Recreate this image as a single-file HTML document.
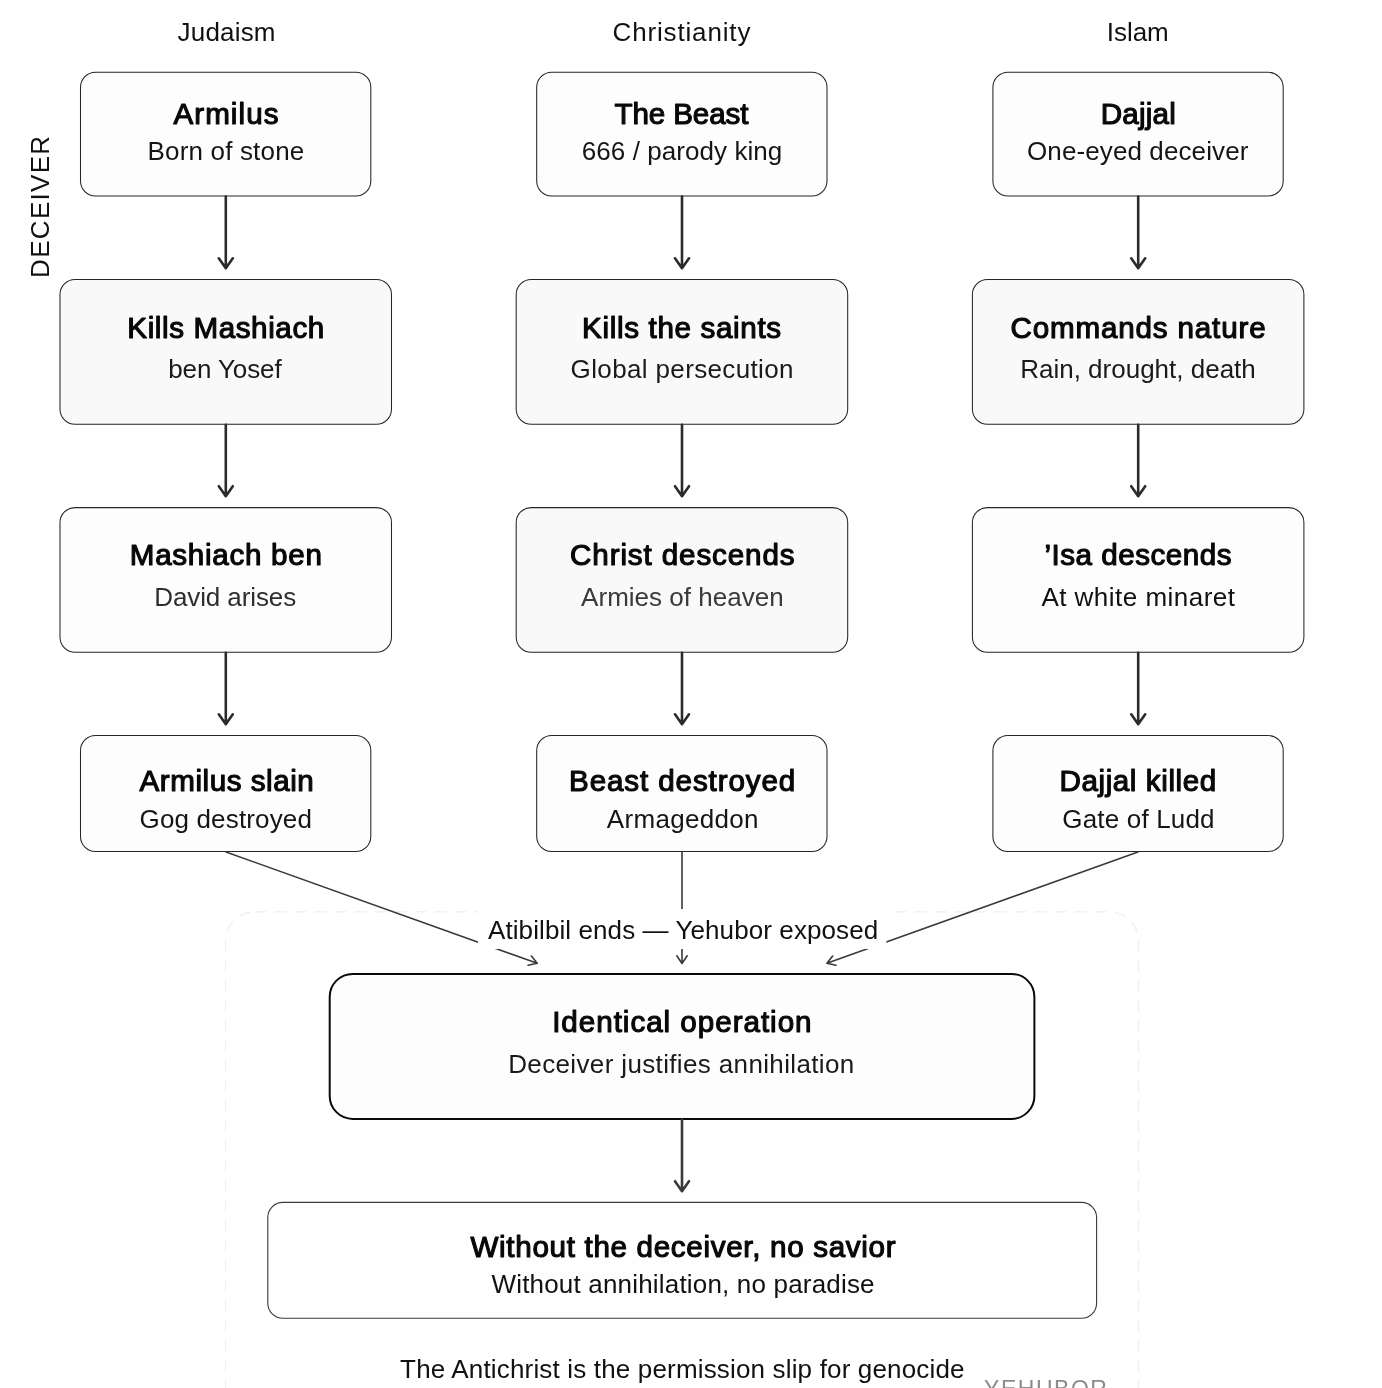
<!DOCTYPE html>
<html><head><meta charset="utf-8"><style>
html,body{margin:0;padding:0;background:#fff;}
body{width:1382px;height:1388px;overflow:hidden;}
svg{display:block;will-change:transform;font-family:"Liberation Sans",sans-serif;}
</style></head><body>
<svg width="1382" height="1388" viewBox="0 0 1382 1388">
<rect x="225.5" y="911.8" width="913" height="600" rx="29" fill="none" stroke="#eeeeee" stroke-width="1.2" stroke-dasharray="12 8"/>
<rect x="80.5" y="72.3" width="290.30" height="123.70" rx="15" fill="#fdfdfd" stroke="#262626" stroke-width="1.05"/>
<rect x="536.7" y="72.3" width="290.30" height="123.70" rx="15" fill="#fdfdfd" stroke="#262626" stroke-width="1.05"/>
<rect x="992.9" y="72.3" width="290.30" height="123.70" rx="15" fill="#fdfdfd" stroke="#262626" stroke-width="1.05"/>
<rect x="60.0" y="279.5" width="331.50" height="144.70" rx="15" fill="#f9f9f9" stroke="#262626" stroke-width="1.05"/>
<rect x="516.2" y="279.5" width="331.50" height="144.70" rx="15" fill="#f9f9f9" stroke="#262626" stroke-width="1.05"/>
<rect x="972.4" y="279.5" width="331.50" height="144.70" rx="15" fill="#f9f9f9" stroke="#262626" stroke-width="1.05"/>
<rect x="60.0" y="507.6" width="331.50" height="144.60" rx="15" fill="#fdfdfd" stroke="#262626" stroke-width="1.05"/>
<rect x="516.2" y="507.6" width="331.50" height="144.60" rx="15" fill="#f9f9f9" stroke="#262626" stroke-width="1.05"/>
<rect x="972.4" y="507.6" width="331.50" height="144.60" rx="15" fill="#fdfdfd" stroke="#262626" stroke-width="1.05"/>
<rect x="80.5" y="735.5" width="290.30" height="116.00" rx="15" fill="#fdfdfd" stroke="#262626" stroke-width="1.05"/>
<rect x="536.7" y="735.5" width="290.30" height="116.00" rx="15" fill="#fdfdfd" stroke="#262626" stroke-width="1.05"/>
<rect x="992.9" y="735.5" width="290.30" height="116.00" rx="15" fill="#fdfdfd" stroke="#262626" stroke-width="1.05"/>
<rect x="329.7" y="973.9" width="704.70" height="145.00" rx="23" fill="#fdfdfd" stroke="#0a0a0a" stroke-width="2"/>
<rect x="267.8" y="1202.4" width="828.80" height="115.90" rx="15" fill="#fefefe" stroke="#3a3a3a" stroke-width="1.1"/>
<path d="M225.8 196.5V268.3M218.8 258.3L225.8 268.3L232.8 258.3" fill="none" stroke="#2b2b2b" stroke-width="2.6" stroke-linecap="round" stroke-linejoin="round"/>
<path d="M225.8 424.7V496.2M218.8 486.2L225.8 496.2L232.8 486.2" fill="none" stroke="#2b2b2b" stroke-width="2.6" stroke-linecap="round" stroke-linejoin="round"/>
<path d="M225.8 652.7V724.3M218.8 714.3L225.8 724.3L232.8 714.3" fill="none" stroke="#2b2b2b" stroke-width="2.6" stroke-linecap="round" stroke-linejoin="round"/>
<path d="M682.0 196.5V268.3M675.0 258.3L682.0 268.3L689.0 258.3" fill="none" stroke="#2b2b2b" stroke-width="2.6" stroke-linecap="round" stroke-linejoin="round"/>
<path d="M682.0 424.7V496.2M675.0 486.2L682.0 496.2L689.0 486.2" fill="none" stroke="#2b2b2b" stroke-width="2.6" stroke-linecap="round" stroke-linejoin="round"/>
<path d="M682.0 652.7V724.3M675.0 714.3L682.0 724.3L689.0 714.3" fill="none" stroke="#2b2b2b" stroke-width="2.6" stroke-linecap="round" stroke-linejoin="round"/>
<path d="M1138.2 196.5V268.3M1131.2 258.3L1138.2 268.3L1145.2 258.3" fill="none" stroke="#2b2b2b" stroke-width="2.6" stroke-linecap="round" stroke-linejoin="round"/>
<path d="M1138.2 424.7V496.2M1131.2 486.2L1138.2 496.2L1145.2 486.2" fill="none" stroke="#2b2b2b" stroke-width="2.6" stroke-linecap="round" stroke-linejoin="round"/>
<path d="M1138.2 652.7V724.3M1131.2 714.3L1138.2 724.3L1145.2 714.3" fill="none" stroke="#2b2b2b" stroke-width="2.6" stroke-linecap="round" stroke-linejoin="round"/>
<path d="M682 1119.5V1191.2M675.0 1181.2L682 1191.2L689.0 1181.2" fill="none" stroke="#3a3a3a" stroke-width="2.6" stroke-linecap="round" stroke-linejoin="round"/>
<path d="M226 852L537.20 963.30M528.11 965.28L537.20 963.30L531.43 956.00" fill="none" stroke="#3a3a3a" stroke-width="1.6" stroke-linecap="round" stroke-linejoin="round"/>
<path d="M682 852L682.00 963.50M676.80 955.79L682.00 963.50L687.20 955.79" fill="none" stroke="#3a3a3a" stroke-width="1.6" stroke-linecap="round" stroke-linejoin="round"/>
<path d="M1138 852L826.90 963.30M832.67 956.00L826.90 963.30L835.99 965.28" fill="none" stroke="#3a3a3a" stroke-width="1.6" stroke-linecap="round" stroke-linejoin="round"/>
<rect x="478" y="909" width="408.4" height="40" fill="#fff"/>
<text x="226.56" y="40.70" font-size="26" fill="#111" text-anchor="middle" textLength="97.91" lengthAdjust="spacing">Judaism</text>
<text x="681.49" y="40.80" font-size="26" fill="#111" text-anchor="middle" textLength="137.79" lengthAdjust="spacing">Christianity</text>
<text x="1137.76" y="40.75" font-size="26" fill="#111" text-anchor="middle" textLength="61.92" lengthAdjust="spacing">Islam</text>
<text x="225.94" y="124.10" font-size="29.6" fill="#080808" stroke="#080808" stroke-width="1.15" stroke-linejoin="round" text-anchor="middle" textLength="105.13" lengthAdjust="spacing">Armilus</text>
<text x="225.87" y="159.70" font-size="26" fill="#151515" text-anchor="middle" textLength="156.75" lengthAdjust="spacing">Born of stone</text>
<text x="681.46" y="124.10" font-size="29.6" fill="#080808" stroke="#080808" stroke-width="1.15" stroke-linejoin="round" text-anchor="middle" textLength="133.97" lengthAdjust="spacing">The Beast</text>
<text x="682.03" y="159.70" font-size="26" fill="#151515" text-anchor="middle" textLength="200.46" lengthAdjust="spacing">666 / parody king</text>
<text x="1138.27" y="124.10" font-size="29.6" fill="#080808" stroke="#080808" stroke-width="1.15" stroke-linejoin="round" text-anchor="middle" textLength="75.18" lengthAdjust="spacing">Dajjal</text>
<text x="1137.69" y="159.70" font-size="26" fill="#151515" text-anchor="middle" textLength="221.37" lengthAdjust="spacing">One-eyed deceiver</text>
<text x="225.79" y="337.70" font-size="29.6" fill="#080808" stroke="#080808" stroke-width="1.15" stroke-linejoin="round" text-anchor="middle" textLength="197.03" lengthAdjust="spacing">Kills Mashiach</text>
<text x="224.96" y="377.70" font-size="26" fill="#1a1a1a" text-anchor="middle" textLength="113.53" lengthAdjust="spacing">ben Yosef</text>
<text x="681.60" y="337.70" font-size="29.6" fill="#080808" stroke="#080808" stroke-width="1.15" stroke-linejoin="round" text-anchor="middle" textLength="199.04" lengthAdjust="spacing">Kills the saints</text>
<text x="682.05" y="377.70" font-size="26" fill="#1a1a1a" text-anchor="middle" textLength="222.89" lengthAdjust="spacing">Global persecution</text>
<text x="1138.05" y="337.70" font-size="29.6" fill="#080808" stroke="#080808" stroke-width="1.15" stroke-linejoin="round" text-anchor="middle" textLength="255.15" lengthAdjust="spacing">Commands nature</text>
<text x="1138.00" y="377.70" font-size="26" fill="#1a1a1a" text-anchor="middle" textLength="235.60" lengthAdjust="spacing">Rain, drought, death</text>
<text x="225.85" y="565.20" font-size="29.6" fill="#080808" stroke="#080808" stroke-width="1.15" stroke-linejoin="round" text-anchor="middle" textLength="192.15" lengthAdjust="spacing">Mashiach ben</text>
<text x="225.22" y="605.70" font-size="26" fill="#2e2e2e" text-anchor="middle" textLength="142.05" lengthAdjust="spacing">David arises</text>
<text x="682.32" y="565.20" font-size="29.6" fill="#080808" stroke="#080808" stroke-width="1.15" stroke-linejoin="round" text-anchor="middle" textLength="224.48" lengthAdjust="spacing">Christ descends</text>
<text x="682.41" y="605.70" font-size="26" fill="#3a3a3a" text-anchor="middle" textLength="202.62" lengthAdjust="spacing">Armies of heaven</text>
<text x="1137.95" y="565.20" font-size="29.6" fill="#080808" stroke="#080808" stroke-width="1.15" stroke-linejoin="round" text-anchor="middle" textLength="186.95" lengthAdjust="spacing">’Isa descends</text>
<text x="1138.20" y="605.70" font-size="26" fill="#111" text-anchor="middle" textLength="193.60" lengthAdjust="spacing">At white minaret</text>
<text x="226.69" y="791.30" font-size="29.6" fill="#080808" stroke="#080808" stroke-width="1.15" stroke-linejoin="round" text-anchor="middle" textLength="174.23" lengthAdjust="spacing">Armilus slain</text>
<text x="225.72" y="827.60" font-size="26" fill="#151515" text-anchor="middle" textLength="172.44" lengthAdjust="spacing">Gog destroyed</text>
<text x="682.15" y="791.30" font-size="29.6" fill="#080808" stroke="#080808" stroke-width="1.15" stroke-linejoin="round" text-anchor="middle" textLength="226.16" lengthAdjust="spacing">Beast destroyed</text>
<text x="682.69" y="827.60" font-size="26" fill="#151515" text-anchor="middle" textLength="151.77" lengthAdjust="spacing">Armageddon</text>
<text x="1137.85" y="791.30" font-size="29.6" fill="#080808" stroke="#080808" stroke-width="1.15" stroke-linejoin="round" text-anchor="middle" textLength="156.76" lengthAdjust="spacing">Dajjal killed</text>
<text x="1138.42" y="827.60" font-size="26" fill="#151515" text-anchor="middle" textLength="152.23" lengthAdjust="spacing">Gate of Ludd</text>
<text x="683.09" y="938.90" font-size="26" fill="#111" text-anchor="middle" textLength="390.18" lengthAdjust="spacing">Atibilbil ends — Yehubor exposed</text>
<text x="681.85" y="1032.10" font-size="29.6" fill="#080808" stroke="#080808" stroke-width="1.15" stroke-linejoin="round" text-anchor="middle" textLength="259.36" lengthAdjust="spacing">Identical operation</text>
<text x="681.24" y="1072.90" font-size="26" fill="#1a1a1a" text-anchor="middle" textLength="346.08" lengthAdjust="spacing">Deceiver justifies annihilation</text>
<text x="683.02" y="1256.50" font-size="29.6" fill="#080808" stroke="#080808" stroke-width="1.15" stroke-linejoin="round" text-anchor="middle" textLength="425.10" lengthAdjust="spacing">Without the deceiver, no savior</text>
<text x="683.02" y="1293.00" font-size="26" fill="#111" text-anchor="middle" textLength="383.03" lengthAdjust="spacing">Without annihilation, no paradise</text>
<text x="682.33" y="1377.60" font-size="26" fill="#111" text-anchor="middle" textLength="564.46" lengthAdjust="spacing">The Antichrist is the permission slip for genocide</text>
<text transform="translate(49.1 206.9) rotate(-90)" font-size="26" fill="#111" text-anchor="middle" textLength="142.0" lengthAdjust="spacing">DECEIVER</text>
<text x="1045.5" y="1397.3" font-size="23" fill="#8c8c8c" text-anchor="middle" textLength="122.8" lengthAdjust="spacing">YEHUBOR</text>
</svg>
</body></html>
